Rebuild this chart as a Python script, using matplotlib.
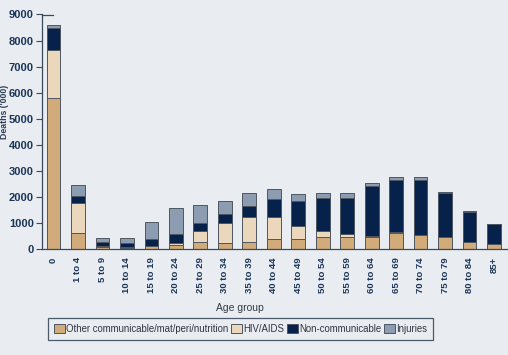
import numpy as np
import matplotlib
matplotlib.use("Agg")
import matplotlib.pyplot as plt

# data ('000 deaths)
ages = ["0", "1 to 4", "5 to 9", "10 to 14", "15 to 19", "20 to 24", "25 to 29",
        "30 to 34", "35 to 39", "40 to 44", "45 to 49", "50 to 54", "55 to 59",
        "60 to 64", "65 to 69", "70 to 74", "75 to 79", "80 to 84", "85+"]
other = [5800, 630, 80, 40, 110, 140, 260, 215, 260, 370, 400, 450, 460, 470, 630, 525, 450, 260, 205]
hiv = [1830, 1130, 20, 20, 20, 80, 430, 800, 950, 850, 500, 240, 105, 20, 10, 0, 0, 0, 0]
noncomm = [850, 280, 170, 170, 270, 345, 300, 325, 425, 715, 930, 1270, 1410, 1930, 2010, 2125, 1690, 1175, 745]
injuries = [110, 420, 150, 180, 650, 1000, 690, 490, 500, 360, 270, 190, 165, 130, 130, 105, 30, 10, 0]

series = [other, hiv, noncomm, injuries]
names = ["Other communicable/mat/peri/nutrition", "HIV/AIDS", "Non-communicable", "Injuries"]
colors = ["#D2AB7A", "#EBD7BB", "#06224A", "#8C9DB2"]

bg = "#E9EDF1"
navy = "#1B3558"
plt.rcParams['font.family'] = ['Liberation Sans Narrow', 'Liberation Sans', 'DejaVu Sans']

fig = plt.figure(figsize=(5.08, 3.55), dpi=100, facecolor=bg)
ax = fig.add_axes([42/508, 1 - 249/355, 465/508, 234.5/355], facecolor=bg)

x = np.arange(len(ages))
bottom = np.zeros(len(ages))
for vals, name, col in zip(series, names, colors):
    ax.bar(x, vals, 0.56, bottom=bottom, color=col, edgecolor="#4E5661",
           linewidth=0.7, label=name, zorder=2)
    bottom += np.array(vals)

ax.set_xlim(-0.47, 18.53)
ax.set_ylim(0, 9000)
ax.set_yticks(range(0, 9001, 1000))
ax.tick_params(axis="y", direction="out", length=4, width=0.8, color="#3A4A5C",
               labelsize=8, labelcolor=navy, pad=2)
for t in ax.get_yticklabels():
    t.set_fontweight("bold")
ax.set_xticks(x)
ax.set_xticklabels(ages, rotation=90, fontsize=6.8, fontweight="bold", color=navy,
                   va="top", ha="center")
ax.tick_params(axis="x", length=0, pad=6)

for s in ["top", "right"]:
    ax.spines[s].set_visible(False)
for s in ["left", "bottom"]:
    ax.spines[s].set_color("#3A4A5C")
    ax.spines[s].set_linewidth(0.9)
ax.plot([0, 0.024], [1, 1], transform=ax.transAxes, color="#3A4A5C", lw=0.9, clip_on=False)

fig.text(5/508, 1 - 112/355, "Deaths ('000)", rotation=90, ha="center", va="center",
         fontsize=6.3, fontweight="bold", color="#2B3E55")
fig.text(240/508, 1 - 308/355, "Age group", ha="center", va="center",
         fontsize=7.5, color="#333A44", family=["Liberation Sans", "DejaVu Sans"])

leg = fig.legend(loc="lower left", bbox_to_anchor=(43/508, 10/355), ncol=4,
                 handlelength=1.1, handleheight=1.1, handletextpad=0.15,
                 columnspacing=0.3, borderpad=0.65, fancybox=False,
                 edgecolor="#4A5A6A", facecolor=bg, framealpha=1,
                 prop={"family": ["Liberation Sans", "DejaVu Sans"], "size": 6.9})
leg.get_frame().set_linewidth(0.9)
for t in leg.get_texts():
    t.set_color("#2E3440")

fig.savefig("out.png", dpi=100, facecolor=bg)
